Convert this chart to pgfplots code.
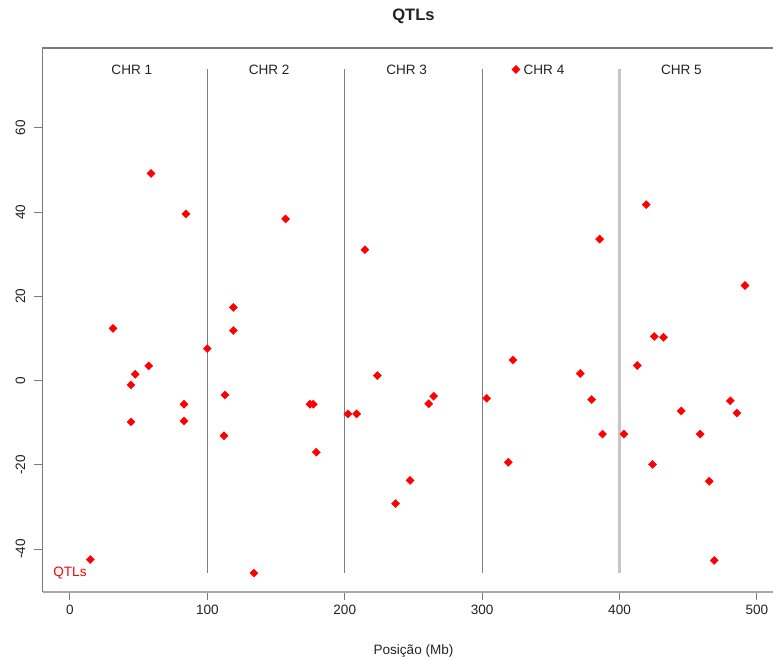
\documentclass[border=0pt]{standalone}
\usepackage{pgfplots}
\pgfplotsset{compat=1.18}
\usepackage{fontspec}
\setmainfont{Liberation Sans}

\definecolor{txt}{HTML}{222222}
\definecolor{qtl}{HTML}{FF0000}
\definecolor{sepdark}{HTML}{7E7E7E}
\definecolor{seplight}{HTML}{C6C6C6}
\definecolor{frame}{HTML}{7A7A7A}
\definecolor{frameb}{HTML}{A8A8A8}

\begin{document}
\begin{tikzpicture}[x=1bp,y=1bp]
\begin{axis}[
  at={(42.5bp,68bp)}, anchor=south west,
  scale only axis, width=730.5bp, height=544bp,
  xmin=-20, xmax=511.7, ymin=-50.2, ymax=79.0,
  axis line style={draw=none},
  xtick={0,100,200,300,400,500},
  ytick={-40,-20,0,20,40,60},
  xtick pos=bottom, ytick pos=left,
  tick align=outside, major tick length=8bp,
  tick style={draw=frame, line width=1bp},
  /pgf/number format/assume math mode=true,
  ticklabel style={font=\fontsize{13.6}{16}\selectfont, text=txt},
  yticklabel style={rotate=90, anchor=south, inner sep=0pt},
  xticklabel style={anchor=north, inner sep=0pt},
  yticklabel shift=9bp,
  xticklabel shift=5bp,
  clip=false,
]
% plot frame
\draw[frame, line width=1.3bp] (rel axis cs:0,0) -- (rel axis cs:0,1) -- (rel axis cs:1,1);
\draw[frameb, line width=2.6bp] (rel axis cs:0,0) -- (rel axis cs:1,0);

% chromosome boundaries
\addplot[sepdark, line width=1bp] coordinates {(100,-45.7) (100,73.9)};
\addplot[sepdark, line width=1bp] coordinates {(200,-45.7) (200,73.9)};
\addplot[sepdark, line width=1bp] coordinates {(300,-45.7) (300,73.9)};
\addplot[seplight, line width=2.6bp] coordinates {(400,-45.7) (400,73.9)};

% QTL positions and effects
\addplot[only marks, mark=square*, mark size=2.9bp,
  mark options={rotate=45, fill=qtl, draw=qtl, line width=0.3bp}]
coordinates {
  (14.8,-42.5) (31.3,12.4) (44.4,-1.0) (44.4,-9.8) (47.5,1.5)
  (57.3,3.5) (59.0,49.2) (83.0,-5.6) (83.0,-9.6) (84.4,39.6)
  (99.9,7.6) (112.1,-13.1) (112.8,-3.4) (118.9,17.4) (118.9,11.9)
  (133.9,-45.7) (156.9,38.4) (174.7,-5.6) (177.1,-5.6) (179.3,-17.0)
  (202.3,-7.9) (208.6,-7.9) (214.7,31.1) (223.7,1.2) (237.0,-29.2)
  (247.5,-23.7) (261.1,-5.5) (264.7,-3.7)
  (303.3,-4.2) (319.0,-19.4) (322.4,4.9) (324.6,73.9) (371.4,1.7)
  (379.7,-4.5) (385.5,33.6) (387.6,-12.7)
  (403.2,-12.7) (412.9,3.6) (419.4,41.8) (424.0,-19.9) (425.3,10.5)
  (432.0,10.3) (444.9,-7.2) (458.7,-12.7) (465.3,-23.9) (468.9,-42.7)
  (480.6,-4.8) (485.4,-7.7) (491.3,22.6)
};

% chromosome labels
\begin{scope}[font=\fontsize{13.6}{16}\selectfont, text=txt]
\node at (axis cs:45,73.9) {CHR 1};
\node at (axis cs:145,73.9) {CHR 2};
\node at (axis cs:245,73.9) {CHR 3};
\node at (axis cs:345,73.9) {CHR 4};
\node at (axis cs:445,73.9) {CHR 5};
\end{scope}
\node[font=\fontsize{13.6}{16}\selectfont, text=qtl] at (axis cs:0,-45.7) {QTLs};
\end{axis}

\node[font=\bfseries\fontsize{16.6}{20}\selectfont, text=txt] at (413.5,644) {QTLs};
\node[font=\fontsize{13.6}{16}\selectfont, text=txt] at (413.5,9) {Posição (Mb)};

\pgfresetboundingbox
\path[use as bounding box] (0,0) rectangle (773,660);
\end{tikzpicture}
\end{document}
